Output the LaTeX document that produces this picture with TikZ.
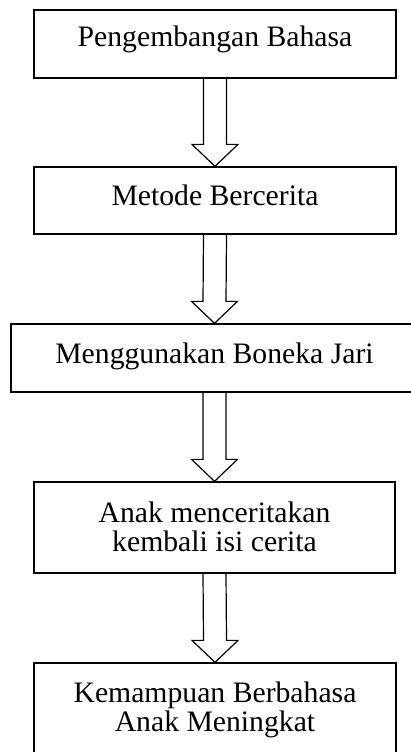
\documentclass[tikz,border=0pt]{standalone}
\usepackage{fontspec}
\setmainfont{Liberation Serif}
\usetikzlibrary{calc}
\tikzset{
  box/.style={draw=black, line width=1.3pt, rectangle, inner sep=0pt},
  txt/.style={inner sep=0pt, anchor=base, font=\fontsize{29.7}{29}\selectfont, text=black},
  arr/.style={draw=black, line width=1.2pt, line join=miter}
}
\newcommand\blkarrow[2]{%
  \draw[arr] ($(#1.south)+(-11.5,0)$) -- ($(#2.north)+(-11.5,-22)$) -- ($(#2.north)+(-23,-22)$)
    -- (#2.north) -- ($(#2.north)+(23,-22)$) -- ($(#2.north)+(11.5,-22)$) -- ($(#1.south)+(11.5,0)$);}
\begin{document}
\begin{tikzpicture}[x=1pt,y=-1pt]
\fill[white] (0,0) rectangle (411,752);
\useasboundingbox (0,0) rectangle (411,752);
\node[box, minimum width=362, minimum height=68] (b1) at (215,44) {};
\node[box, minimum width=362, minimum height=67] (b2) at (215,200.5) {};
\node[box, minimum width=407, minimum height=68] (b3) at (214.5,358) {};
\node[box, minimum width=361, minimum height=91] (b4) at (214.5,527.5) {};
\node[box, minimum width=362, minimum height=97] (b5) at (215,711.5) {};
\node[txt] (t1) at (215,47) {Pengembangan Bahasa};
\node[txt] (t2) at (215,205) {Metode Bercerita};
\node[txt] (t3) at (214.5,363) {Menggunakan Boneka Jari};
\node[txt] (t4a) at (214.5,522) {Anak menceritakan};
\node[txt] (t4b) at (214.5,551) {kembali isi cerita};
\node[txt] (t5a) at (215,702) {Kemampuan Berbahasa};
\node[txt] (t5b) at (215,731) {Anak Meningkat};
\blkarrow{b1}{b2}
\blkarrow{b2}{b3}
\blkarrow{b3}{b4}
\blkarrow{b4}{b5}
\end{tikzpicture}
\end{document}
